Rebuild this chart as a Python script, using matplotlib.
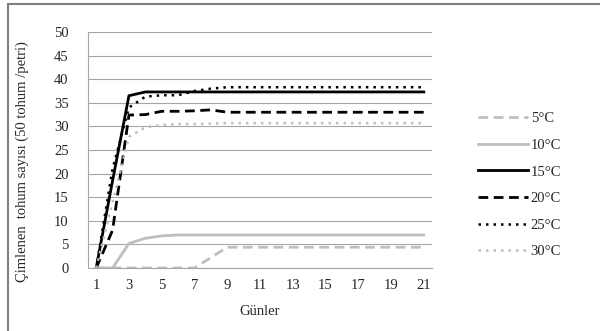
import matplotlib.pyplot as plt
import numpy as np
from matplotlib.patches import Rectangle

days = list(range(1, 22))
t5  = [0, 0, 0, 0, 0, 0, 0, 2.2, 4.4, 4.4, 4.4, 4.4, 4.4, 4.4, 4.4, 4.4, 4.4, 4.4, 4.4, 4.4, 4.4]
t10 = [0, 0, 5.2, 6.3, 6.8, 7.0, 7.0, 7.0, 7.0, 7.0, 7.0, 7.0, 7.0, 7.0, 7.0, 7.0, 7.0, 7.0, 7.0, 7.0, 7.0]
t15 = [0, 18.5, 36.5, 37.3, 37.3, 37.3, 37.3, 37.3, 37.3, 37.3, 37.3, 37.3, 37.3, 37.3, 37.3, 37.3, 37.3, 37.3, 37.3, 37.3, 37.3]
t20 = [0, 8, 32.4, 32.5, 33.2, 33.2, 33.3, 33.5, 33.0, 33.0, 33.0, 33.0, 33.0, 33.0, 33.0, 33.0, 33.0, 33.0, 33.0, 33.0, 33.0]
t25 = [0, 21, 34.0, 36.3, 36.6, 36.6, 37.5, 38.0, 38.3, 38.3, 38.3, 38.3, 38.3, 38.3, 38.3, 38.3, 38.3, 38.3, 38.3, 38.3, 38.3]
t30 = [0, 14, 27.8, 29.8, 30.3, 30.5, 30.5, 30.6, 30.7, 30.7, 30.7, 30.7, 30.7, 30.7, 30.7, 30.7, 30.7, 30.7, 30.7, 30.7, 30.7]
labels = ['5°C', '10°C', '15°C', '20°C', '25°C', '30°C']
xticklabels = [str(d) for d in range(1, 22, 2)]

plt.rcParams['font.family'] = ['Liberation Serif', 'DejaVu Serif']
txt = '#262626'
light = '#BFBFBF'

fig = plt.figure(figsize=(6, 3.31), dpi=100)
fig.patches.append(Rectangle((8/600, -0.1), 1.2, 0.1 + (331-4)/331, transform=fig.transFigure,
                             fill=False, edgecolor='#7f7f7f', lw=1.5))
ax = fig.add_axes([88/600, 63/331, 344/600, 236/331])

x = np.arange(len(days))
ax.plot(x, t5, color=light, lw=2, ls=(0, (3.5, 2)), label=labels[0])
ax.plot(x, t10, color=light, lw=2, ls='-', label=labels[1])
ax.plot(x, t15, color='black', lw=2, ls='-', label=labels[2])
ax.plot(x, t20, color='black', lw=2, ls=(0, (3.5, 2)), label=labels[3])
ax.plot(x, t25, color='black', lw=1.8, ls=(0, (1, 2)), label=labels[4])
ax.plot(x, t30, color=light, lw=1.8, ls=(0, (1, 2)), label=labels[5])

ax.set_xlim(-0.5, len(days) - 0.5)
ax.set_ylim(0, 50)
ax.set_yticks(np.arange(0, 51, 5))
ax.set_xticks(x[::2])
ax.set_xticklabels(xticklabels)
ax.grid(axis='y', color='#a6a6a6', lw=0.8)
ax.set_axisbelow(True)
for s in ['top', 'right']:
    ax.spines[s].set_visible(False)
for s in ['left', 'bottom']:
    ax.spines[s].set_color('#a6a6a6')
ax.tick_params(length=0, labelsize=10.5, colors=txt)
ax.tick_params(axis='y', pad=14)
ax.tick_params(axis='x', pad=8)
ax.set_xlabel('Günler', fontsize=10.5, color=txt, labelpad=9)
fig.text(22/600, 1 - 162/331, 'Çimlenen  tohum sayısı (50 tohum /petri)', rotation=90,
         ha='center', va='center', fontsize=10.5, color=txt)

fig.legend(loc='upper left', bbox_to_anchor=(465/600, 1 - 99/331), frameon=False,
           handlelength=3.4, labelspacing=0.92, fontsize=10.5, labelcolor=txt,
           handletextpad=0.2)

fig.savefig('out.png', dpi=100)
